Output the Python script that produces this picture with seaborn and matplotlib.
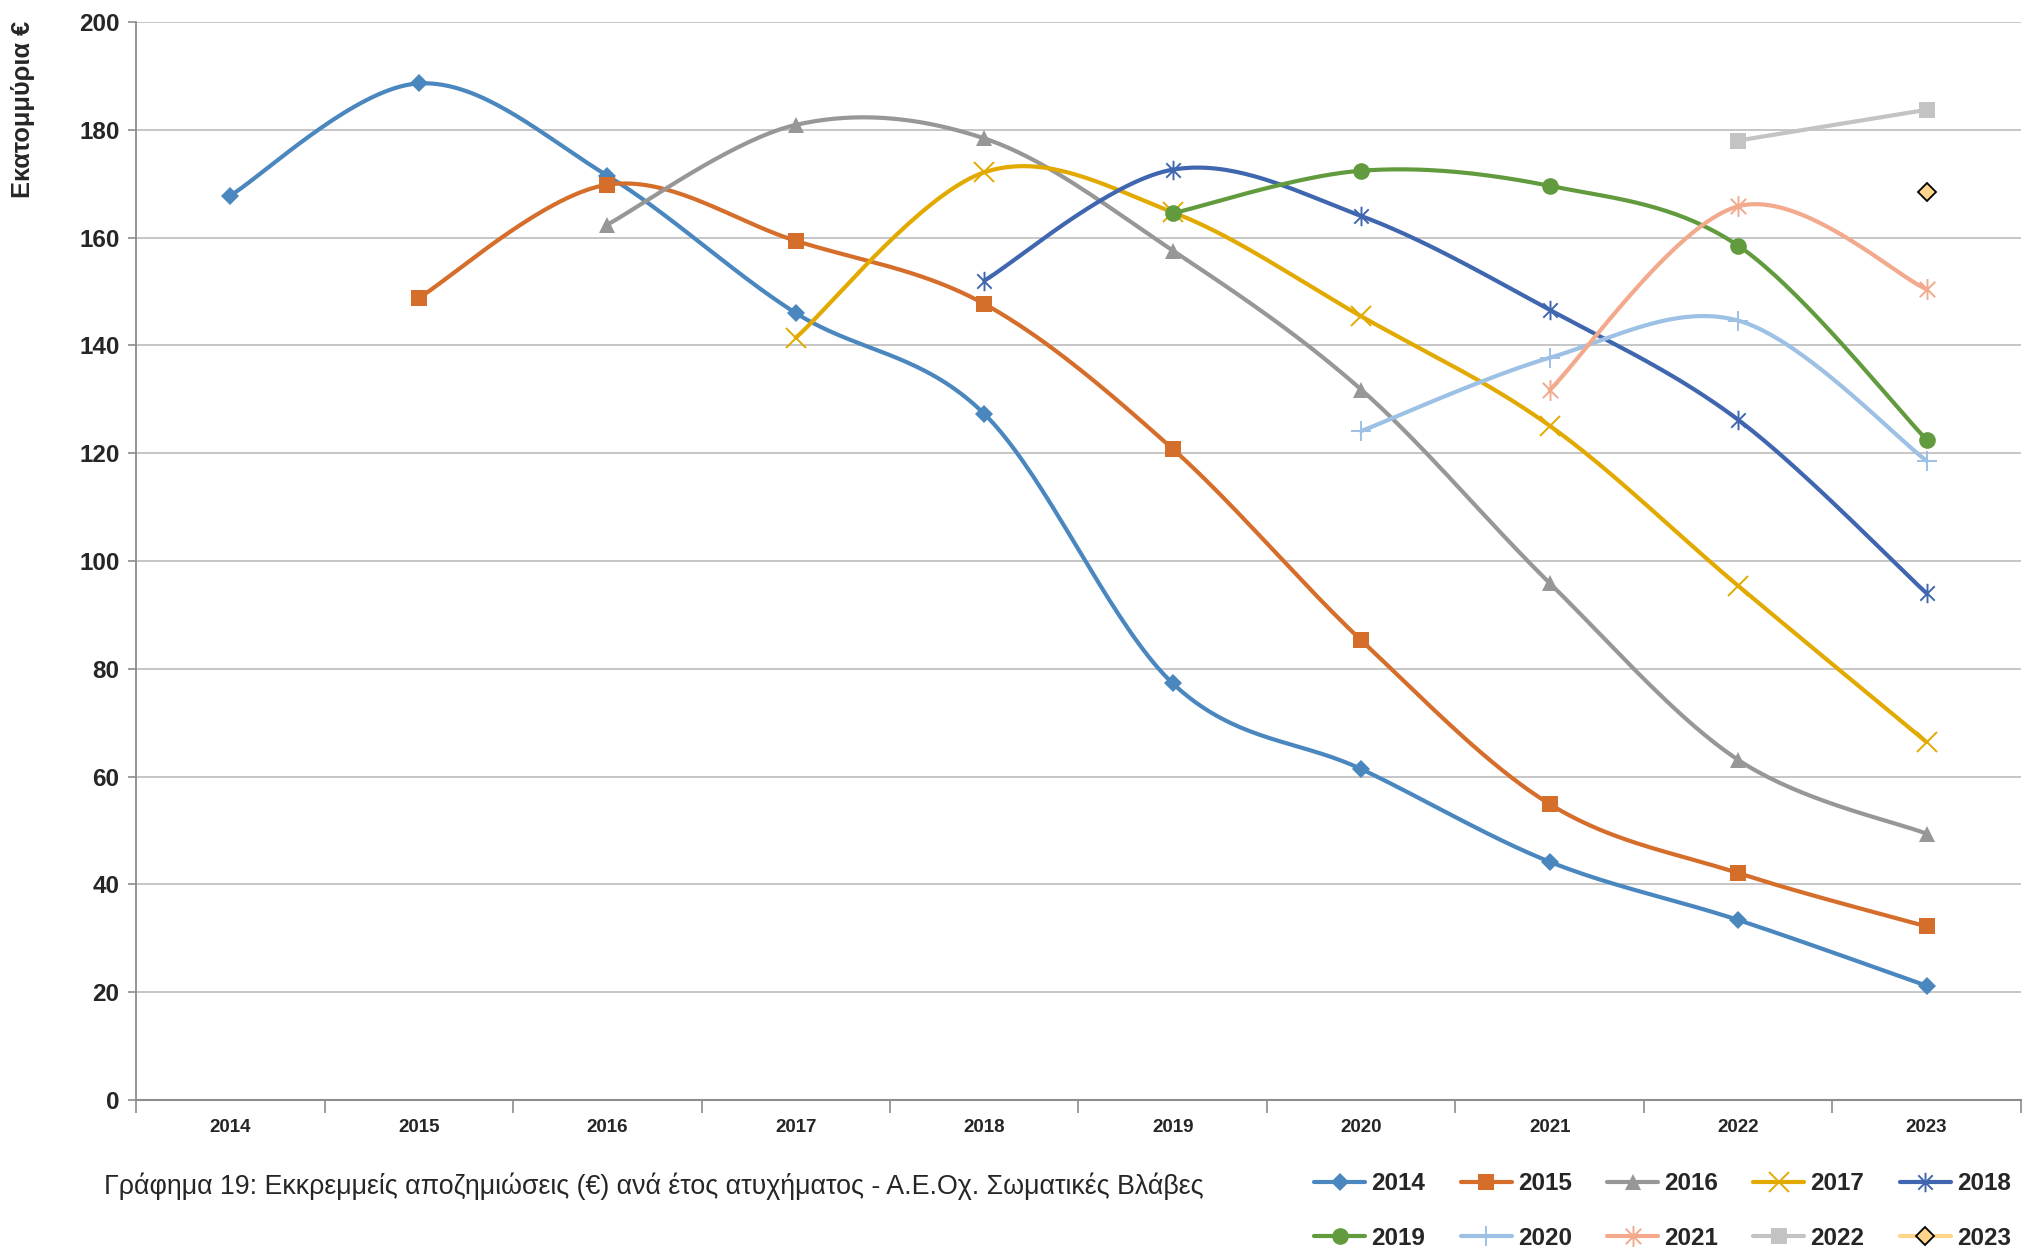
import numpy as np
import pandas as pd
import matplotlib
matplotlib.use('Agg')
import matplotlib.pyplot as plt
from matplotlib.lines import Line2D
from matplotlib.path import Path
import seaborn as sns

# accident year on the x axis, one series per valuation year
years = ['2014', '2015', '2016', '2017', '2018', '2019', '2020', '2021', '2022', '2023']
nan = np.nan
s2014 = [167.8, 188.6, 171.5, 146.0, 127.3, 77.3, 61.4, 44.2, 33.4, 21.2]
s2015 = [nan, 148.8, 169.8, 159.4, 147.7, 120.8, 85.3, 54.9, 42.1, 32.2]
s2016 = [nan, nan, 162.4, 180.9, 178.4, 157.6, 131.8, 95.9, 63.1, 49.4]
s2017 = [nan, nan, nan, 141.4, 172.1, 164.7, 145.4, 125.1, 95.4, 66.4]
s2018 = [nan, nan, nan, nan, 152.0, 172.6, 164.0, 146.6, 126.2, 94.0]
s2019 = [nan, nan, nan, nan, nan, 164.5, 172.4, 169.6, 158.5, 122.5]
s2020 = [nan, nan, nan, nan, nan, nan, 124.1, 137.7, 144.6, 118.6]
s2021 = [nan, nan, nan, nan, nan, nan, nan, 131.7, 165.8, 150.4]
s2022 = [nan, nan, nan, nan, nan, nan, nan, nan, 178.0, 183.7]
s2023 = [nan, nan, nan, nan, nan, nan, nan, nan, nan, 168.5]
series = [s2014, s2015, s2016, s2017, s2018, s2019, s2020, s2021, s2022, s2023]

caption = 'Γράφημα 19: Εκκρεμμείς αποζημιώσεις (€) ανά έτος ατυχήματος - Α.Ε.Οχ. Σωματικές Βλάβες'
ylabel = 'Εκατομμύρια €'

# styling
colors = ['#4A87BF', '#D56D2B', '#979797', '#E2AA00', '#3F66AF',
          '#629B3E', '#9DC0E5', '#F2A98C', '#C3C3C3', '#FFD58A']
star = Path([(-1, -1), (1, 1), (-1, 1), (1, -1), (0, -1.35), (0, 1.35)],
            [Path.MOVETO, Path.LINETO, Path.MOVETO, Path.LINETO, Path.MOVETO, Path.LINETO])
markers = ['D', 's', '^', 'x', star, 'o', '+', star, 's', 'D']
msizes = [9, 12, 12, 14, 14, 12, 15, 15, 12, 9]
medge = [None, None, None, None, None, None, None, None, None, 'black']

sns.set_theme(style='white')
plt.rcParams['font.family'] = ['Liberation Sans', 'DejaVu Sans']


def excel_smooth(xs, ys, n=40):
    pts = np.column_stack([xs, ys])
    out = [pts[:1]]
    for i in range(len(pts) - 1):
        p0 = pts[max(i - 1, 0)]
        p1 = pts[i]
        p2 = pts[i + 1]
        p3 = pts[min(i + 2, len(pts) - 1)]
        c1 = p1 + (p2 - p0) / 6
        c2 = p2 - (p3 - p1) / 6
        t = np.linspace(0, 1, n)[1:, None]
        b = (1 - t) ** 3 * p1 + 3 * (1 - t) ** 2 * t * c1 + 3 * (1 - t) * t ** 2 * c2 + t ** 3 * p2
        out.append(b)
    return np.vstack(out)


rows = []
for name, vals in zip(years, series):
    v = np.array(vals, dtype=float)
    idx = np.where(~np.isnan(v))[0]
    if len(idx) < 2:
        continue
    curve = excel_smooth(idx.astype(float), v[idx])
    rows.append(pd.DataFrame({'x': curve[:, 0], 'y': curve[:, 1], 'series': name}))
df = pd.concat(rows, ignore_index=True)

fig = plt.figure(figsize=(20.31, 12.55), dpi=100)
ax = fig.add_axes([0.067, 0.1235, 0.928, 0.859])

for y in range(20, 201, 20):
    ax.axhline(y, color='#C6C6C6', lw=1.4, zorder=0)

sns.lineplot(data=df, x='x', y='y', hue='series', palette=dict(zip(years, colors)),
             sort=False, estimator=None, lw=3.0, legend=False, ax=ax)

for i, vals in enumerate(series):
    v = np.array(vals, dtype=float)
    idx = np.where(~np.isnan(v))[0]
    m = markers[i]
    line_marker = m in ('x', '+') or m is star
    ax.plot(idx, v[idx], linestyle='none', marker=m, ms=msizes[i],
            mfc=colors[i], mec=medge[i] or colors[i],
            mew=1.4 if line_marker else (1.3 if medge[i] else 0), zorder=3)

ax.set_xlim(-0.5, 9.5)
ax.set_ylim(0, 200)
ax.set_xticks(range(len(years)))
ax.set_xticklabels(years)
ax.set_xticks(np.arange(-0.5, 10, 1), minor=True)
ax.set_yticks(range(0, 201, 20))
ax.tick_params(axis='x', which='major', length=0, pad=14, labelsize=13.5)
ax.tick_params(axis='x', which='minor', length=9, width=1.2, color='#8C8C8C', direction='out', bottom=True)
ax.tick_params(axis='y', length=6, width=1.2, color='#8C8C8C', direction='out', left=True, labelsize=17.5, pad=6)
for lab in ax.get_xticklabels() + ax.get_yticklabels():
    lab.set_fontweight('bold')
ax.set_xlabel('')
ax.set_ylabel('')
for side in ['top', 'right']:
    ax.spines[side].set_visible(False)
ax.spines['left'].set_color('#8C8C8C')
ax.spines['bottom'].set_color('#8C8C8C')
ax.spines['left'].set_linewidth(1.3)
ax.spines['bottom'].set_linewidth(1.5)

fig.text(23 / 2031, 1 - 109 / 1255, ylabel, rotation=90, ha='center', va='center',
         fontsize=18.3, fontweight='bold')
fig.text(104 / 2031, 1 - 1186 / 1255, caption, ha='left', va='center', fontsize=19.3)

handles = []
for i, name in enumerate(years):
    m = markers[i]
    line_marker = m in ('x', '+') or m is star
    handles.append(Line2D([], [], color=colors[i], lw=3.0, marker=m, ms=msizes[i],
                          mfc=colors[i], mec=medge[i] or colors[i],
                          mew=1.4 if line_marker else (1.3 if medge[i] else 0)))
order = [0, 5, 1, 6, 2, 7, 3, 8, 4, 9]
fig.legend([handles[k] for k in order], [years[k] for k in order], ncol=5,
           loc='center right', bbox_to_anchor=(0.996, 1 - 1211 / 1255), frameon=False,
           prop={'weight': 'bold', 'size': 17.5}, handlelength=2.1, handletextpad=0.25,
           columnspacing=1.45, labelspacing=1.3, borderpad=0)

fig.savefig('out.png', dpi=100)
